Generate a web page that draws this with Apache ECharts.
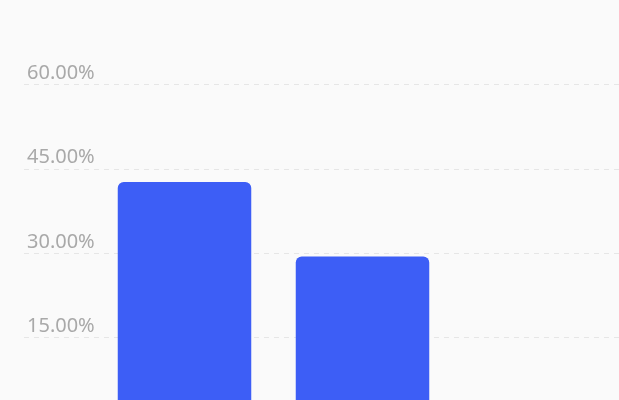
<!DOCTYPE html>
<html>
<head>
<meta charset="utf-8">
<script src="https://cdn.jsdelivr.net/npm/echarts@6/dist/echarts.min.js"></script>
<style>
    html, body { margin: 0; padding: 0; background: #fafafa; overflow: hidden; }
    #chart { width: 619px; height: 440px; }
</style>
</head>
<body>
<div id="chart"></div>
<script>
// 数据
const categories = ['A', 'B'];
const values = [42.65, 29.4];
const yTicks = [0, 15, 30, 45, 60];

const chart = echarts.init(document.getElementById('chart'));

const yMin = yTicks[0];
const yMax = yTicks[yTicks.length - 1];
const yStep = yTicks[1] - yTicks[0];

const option = {
    backgroundColor: '#fafafa',
    animation: false,
    grid: [
        // 网格线和刻度标签
        { left: 24, right: 0, top: 84.5, bottom: 18.4 },
        // 柱子
        { left: 95.5, right: 167.5, top: 84.5, bottom: 18.4 }
    ],
    xAxis: [
        { type: 'category', gridIndex: 0, data: categories, show: false },
        {
            type: 'category',
            gridIndex: 1,
            data: categories,
            axisLine: { show: false },
            axisTick: { show: false },
            axisLabel: { show: false }
        }
    ],
    yAxis: [
        {
            type: 'value',
            gridIndex: 0,
            min: yMin,
            max: yMax,
            interval: yStep,
            axisLine: { show: false },
            axisTick: { show: false },
            axisLabel: {
                inside: true,
                margin: 3,
                verticalAlign: 'bottom',
                padding: [0, 0, 1, 0],
                color: '#a9a9a9',
                fontSize: 20,
                fontFamily: 'Noto Sans',
                formatter: v => v.toFixed(2) + '%'
            },
            splitLine: {
                lineStyle: { color: '#e6e6e6', type: [5, 5], width: 1 }
            }
        },
        {
            type: 'value',
            gridIndex: 1,
            min: yMin,
            max: yMax,
            interval: yStep,
            show: false,
            splitLine: { show: false }
        }
    ],
    series: [{
        type: 'bar',
        xAxisIndex: 1,
        yAxisIndex: 1,
        data: values,
        barWidth: '75%',
        itemStyle: {
            color: '#3d5ef6',
            borderRadius: [6, 6, 0, 0]
        }
    }]
};

chart.setOption(option);
</script>
</body>
</html>
